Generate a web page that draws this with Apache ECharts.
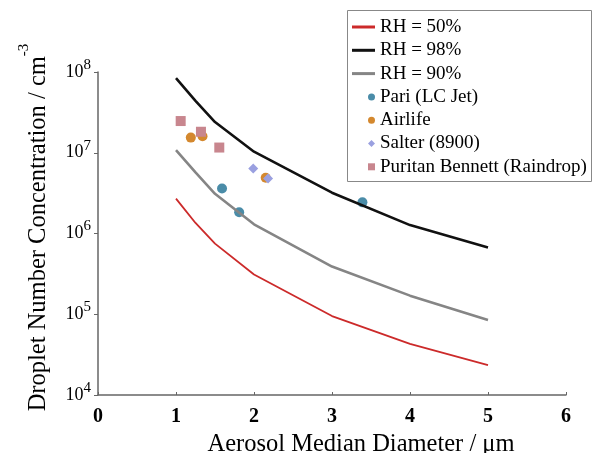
<!DOCTYPE html>
<html>
<head>
<meta charset="utf-8">
<script src="https://cdn.jsdelivr.net/npm/echarts@6/dist/echarts.min.js"></script>
<style>
    html, body { margin: 0; padding: 0; background: #fff; }
    #chart { width: 597px; height: 453px; }
</style>
</head>
<body>
<div id="chart"></div>
<script>
// model curves
var lineX = [1, 1.25, 1.5, 2, 3, 4, 5];
var rh50 = [2.7e6, 1.35e6, 7.5e5, 3.1e5, 9.5e4, 4.3e4, 2.35e4];
var rh98 = [8.4e7, 4.4e7, 2.4e7, 1.03e7, 3.2e6, 1.27e6, 6.7e5];
var rh90 = [1.08e7, 5.7e6, 3.1e6, 1.3e6, 3.9e5, 1.7e5, 8.5e4];

// measured nebulisers
var pariX = [1.59, 1.81, 3.39];
var pariY = [3.6e6, 1.83e6, 2.43e6];
var airlifeX = [1.19, 1.34, 2.15];
var airlifeY = [1.54e7, 1.6e7, 4.9e6];
var salterX = [1.99, 2.18];
var salterY = [6.4e6, 4.8e6];
var puritanX = [1.06, 1.32, 1.555];
var puritanY = [2.47e7, 1.82e7, 1.16e7];

var xTicks = [0, 1, 2, 3, 4, 5, 6];

var serif = 'Liberation Serif';

function pairs(xs, ys) {
    var out = [];
    for (var i = 0; i < xs.length; i++) {
        out.push([xs[i], ys[i]]);
    }
    return out;
}

var chart = echarts.init(document.getElementById('chart'));

var legendText = { fontFamily: serif, fontSize: 19, color: '#000', lineHeight: 19 };

var option = {
    backgroundColor: '#fff',
    animation: false,
    grid: { left: 98, right: 31, top: 72, bottom: 58, outerBoundsMode: 'none' },
    legend: [
        {
            // curves
            orient: 'vertical',
            left: 352,
            top: 17.5,
            padding: 0,
            icon: 'rect',
            itemWidth: 23,
            itemHeight: 3,
            itemGap: 4.3,
            data: ['RH = 50%', 'RH = 98%', 'RH = 90%'],
            textStyle: legendText,
        },
        {
            // measured points
            orient: 'vertical',
            left: 368,
            top: 87.4,
            padding: 0,
            itemWidth: 7,
            itemHeight: 7,
            itemGap: 4.3,
            data: ['Pari (LC Jet)', 'Airlife', 'Salter (8900)', 'Puritan Bennett (Raindrop)'],
            textStyle: legendText,
        },
    ],
    graphic: [
        {
            type: 'rect',
            shape: { x: 347.5, y: 10.5, width: 244, height: 171 },
            style: { fill: 'none', stroke: '#888', lineWidth: 1 },
            z: 100,
        },
    ],
    xAxis: {
        type: 'value',
        min: 0,
        max: 6,
        interval: 1,
        name: 'Aerosol Median Diameter / μm',
        nameLocation: 'middle',
        nameGap: 33,
        nameTextStyle: { fontFamily: serif, fontSize: 24.5, color: '#000', padding: [0, 0, 0, 58] },
        axisLine: { lineStyle: { color: '#666', width: 1.5 } },
        axisTick: { inside: true, length: 3, lineStyle: { color: '#666' } },
        splitLine: { show: false },
        axisLabel: {
            margin: 12,
            fontFamily: serif,
            fontSize: 20,
            fontWeight: 'bold',
            color: '#000',
            formatter: function (v) {
                return xTicks.indexOf(v) >= 0 ? String(v) : '';
            },
        },
    },
    yAxis: {
        type: 'log',
        logBase: 10,
        min: 1e4,
        max: 1e8,
        name: '{m|Droplet Number Concentration / cm}{s|-3}',
        nameLocation: 'middle',
        nameRotate: 90,
        nameGap: 37.5,
        nameTextStyle: {
            padding: [0, 0, 0, 12],
            rich: {
                m: { fontFamily: serif, fontSize: 24.5, color: '#000', lineHeight: 44 },
                s: { fontFamily: serif, fontSize: 15, color: '#000', lineHeight: 14, verticalAlign: 'top' },
            },
        },
        axisLine: { show: true, lineStyle: { color: '#666', width: 1.5 } },
        axisTick: { show: true, length: 4, lineStyle: { color: '#666' } },
        splitLine: { show: false },
        axisLabel: {
            margin: 7,
            formatter: function (v) {
                var e = Math.round(Math.log10(v));
                return '{b|10}{s|' + e + '}';
            },
            rich: {
                b: { fontFamily: serif, fontSize: 18, color: '#000', lineHeight: 29 },
                s: { fontFamily: serif, fontSize: 15, color: '#000', lineHeight: 15, verticalAlign: 'top' },
            },
        },
    },
    series: [
        {
            name: 'RH = 50%',
            type: 'line',
            symbol: 'none',
            data: pairs(lineX, rh50),
            lineStyle: { color: '#cc2a2a', width: 1.8 },
            itemStyle: { color: '#cc2a2a' },
        },
        {
            name: 'RH = 98%',
            type: 'line',
            symbol: 'none',
            data: pairs(lineX, rh98),
            lineStyle: { color: '#111', width: 2.6 },
            itemStyle: { color: '#111' },
        },
        {
            name: 'RH = 90%',
            type: 'line',
            symbol: 'none',
            data: pairs(lineX, rh90),
            lineStyle: { color: '#858585', width: 2.6 },
            itemStyle: { color: '#858585' },
        },
        {
            name: 'Pari (LC Jet)',
            type: 'scatter',
            symbol: 'circle',
            symbolSize: 10,
            data: pairs(pariX, pariY),
            itemStyle: { color: '#4a8ca8', opacity: 1 },
        },
        {
            name: 'Airlife',
            type: 'scatter',
            symbol: 'circle',
            symbolSize: 10,
            data: pairs(airlifeX, airlifeY),
            itemStyle: { color: '#d4882e', opacity: 1 },
        },
        {
            name: 'Salter (8900)',
            type: 'scatter',
            symbol: 'diamond',
            symbolSize: 10,
            data: pairs(salterX, salterY),
            itemStyle: { color: '#9aa0e0', opacity: 1 },
        },
        {
            name: 'Puritan Bennett (Raindrop)',
            type: 'scatter',
            symbol: 'rect',
            symbolSize: 10,
            data: pairs(puritanX, puritanY),
            itemStyle: { color: '#c8868e', opacity: 1 },
        },
    ],
};

chart.setOption(option);
</script>
</body>
</html>
